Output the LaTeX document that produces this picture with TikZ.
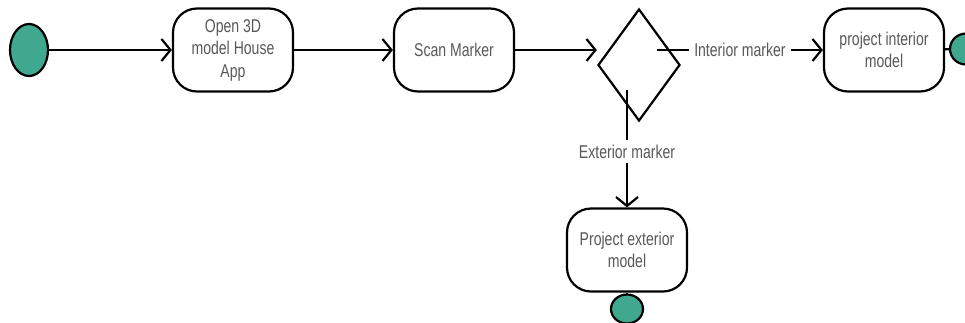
\documentclass[tikz,border=0pt]{standalone}
\usepackage{fontspec}
\setmainfont{Liberation Sans}[FakeStretch=0.76]
\usetikzlibrary{arrows.meta,shapes.geometric}
\definecolor{termgreen}{RGB}{64,168,142}
\definecolor{labelgray}{RGB}{88,88,88}

\begin{document}
\begin{tikzpicture}[x=1pt,y=-1pt,>={Straight Barb[length=9pt,width=22pt]},line width=2.2pt,
  every node/.style={font=\fontsize{18.5}{22.5}\selectfont,text=labelgray}]
  \tikzset{activity/.style={draw,rounded corners=24pt,minimum width=120pt,minimum height=83pt,align=center,inner sep=2pt},
    terminal/.style={draw,ellipse,fill=termgreen,inner sep=0pt},
    decision/.style={draw,diamond,minimum width=82pt,minimum height=112pt,inner sep=0pt},
    guard/.style={fill=white,inner sep=5pt}}
  \useasboundingbox (0,0) rectangle (965,322);
  \node[terminal,minimum width=38pt,minimum height=52pt] (start) at (29, 50) {};
  \node[activity] (open) at (233, 50) {Open 3D \\ model House \\ App};
  \node[activity] (scan) at (454, 50) {Scan Marker};
  \node[decision] (fork) at (639, 65) {};
  \node[activity] (intproj) at (884, 50) {project interior \\ model};
  \node[activity] (extproj) at (627, 250) {Project exterior \\ model};
  \node[terminal,minimum width=32pt,minimum height=31pt] (intend) at (966, 49) {};
  \node[terminal,minimum width=32pt,minimum height=29pt] (extend) at (627, 309) {};
  \coordinate (intout) at (657, 50);
  \coordinate (extout) at (627, 90);
  \path[->] (start)  edge (open);
  \path[->] (open)   edge (scan);
  \path[->] (scan.east) edge (scan.east -| fork.west);
  \path[->] (intout) edge node[guard] {Interior marker} (intproj);
  \path[->] (extout) edge node[guard,yshift=-3pt] {Exterior marker} (extproj);
  \path (intproj) edge (intend);
  \path (extproj) edge (extend);
\end{tikzpicture}
\end{document}
